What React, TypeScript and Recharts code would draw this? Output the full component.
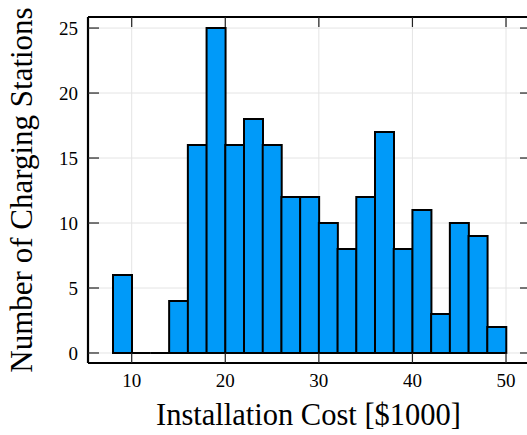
import React from 'react'
import { BarChart, Bar, XAxis, YAxis, CartesianGrid } from 'recharts'

const BIN_STARTS = [8, 10, 12, 14, 16, 18, 20, 22, 24, 26, 28, 30, 32, 34, 36, 38, 40, 42, 44, 46, 48]
const COUNTS = [6, 0, 0, 4, 16, 25, 16, 18, 16, 12, 12, 10, 8, 12, 17, 8, 11, 3, 10, 9, 2]
const BIN_WIDTH = 2
const X_TICKS = [10, 20, 30, 40, 50]
const Y_TICKS = [0, 5, 10, 15, 20, 25]
const X_DOMAIN = [5.33, 52.67]
const Y_DOMAIN = [-0.77, 25.85]

const DATA = BIN_STARTS.map((start, i) => ({
    bin: String(start),
    center: start + BIN_WIDTH / 2,
    count: COUNTS[i],
}))

const FONT = '"Liberation Serif", "Times New Roman", serif'
const TICK_COLOR = '#222'

const BottomTick = (props: any) => {
    const { x, y, payload } = props
    return (
        <g>
            <line x1={x} x2={x} y1={y} y2={y - 10} stroke={TICK_COLOR} strokeWidth={1.2} />
            <text x={x} y={y + 24} textAnchor="middle" fontFamily={FONT} fontSize={19} fill="#000">
                {payload.value}
            </text>
        </g>
    )
}

const TopTick = (props: any) => {
    const { x, y } = props
    return <line x1={x} x2={x} y1={y} y2={y + 10} stroke={TICK_COLOR} strokeWidth={1.2} />
}

const LeftTick = (props: any) => {
    const { x, y, payload } = props
    return (
        <g>
            <line x1={x} x2={x + 11} y1={y} y2={y} stroke={TICK_COLOR} strokeWidth={1.2} />
            <text x={x - 10} y={y + 7} textAnchor="end" fontFamily={FONT} fontSize={19} fill="#000">
                {payload.value}
            </text>
        </g>
    )
}

const RightTick = (props: any) => {
    const { x, y } = props
    return <line x1={x} x2={x - 11} y1={y} y2={y} stroke={TICK_COLOR} strokeWidth={1.2} />
}

const XTitle = (props: any) => {
    const { viewBox } = props
    return (
        <text x={viewBox.x + viewBox.width / 2 - 1} y={viewBox.y + 62} textAnchor="middle"
            fontFamily={FONT} fontSize={30.5} fill="#000">
            Installation Cost [$1000]
        </text>
    )
}

const YTitle = (props: any) => {
    const { viewBox } = props
    const cy = viewBox.y + viewBox.height / 2
    return (
        <text transform={`translate(32,${cy}) rotate(-90)`} textAnchor="middle"
            fontFamily={FONT} fontSize={31} fill="#000">
            Number of Charging Stations
        </text>
    )
}

// outlined bin, also drawn when the count is zero (flat line on the baseline)
const BinShape = (props: any) => {
    const { x, y, width, height } = props
    const d = `M${x},${y} h${width} v${height} h${-width} Z`
    return <path d={d} fill="#009AF9" stroke="#000" strokeWidth={2} strokeLinejoin="miter" />
}

const frame = { stroke: '#000', strokeWidth: 2.2 }

export default function App() {
    return (
        <div style={{ position: 'absolute', left: 0, top: 0, width: 527, height: 435, overflow: 'hidden', background: '#fff' }}>
            <BarChart width={546} height={435} data={DATA} margin={{ top: 0, right: 0, bottom: 0, left: 0 }}
                barCategoryGap={0} barGap={0}>
                <CartesianGrid xAxisId="bottom" yAxisId="left" stroke="#e4e4e4" strokeWidth={1} />
                <XAxis xAxisId="cat" dataKey="bin" type="category" hide padding={{ left: 25, right: 25 }} />
                <XAxis xAxisId="bottom" dataKey="center" type="number" orientation="bottom" height={72}
                    domain={X_DOMAIN} allowDataOverflow ticks={X_TICKS} interval={0}
                    tickLine={false} tickSize={0} tickMargin={0} axisLine={frame}
                    tick={<BottomTick />} label={<XTitle />} />
                <XAxis xAxisId="top" dataKey="center" type="number" orientation="top" height={17}
                    domain={X_DOMAIN} allowDataOverflow ticks={X_TICKS} interval={0}
                    tickLine={false} tickSize={0} tickMargin={0} axisLine={frame}
                    tick={<TopTick />} />
                <YAxis yAxisId="left" type="number" width={88} domain={Y_DOMAIN} allowDataOverflow
                    ticks={Y_TICKS} interval={0} tickLine={false} tickSize={0} tickMargin={0}
                    axisLine={frame} tick={<LeftTick />} label={<YTitle />} />
                <YAxis yAxisId="right" orientation="right" type="number" width={15} domain={Y_DOMAIN}
                    allowDataOverflow ticks={Y_TICKS} interval={0} tickLine={false} tickSize={0}
                    tickMargin={0} axisLine={frame} tick={<RightTick />} />
                <Bar dataKey="count" xAxisId="cat" yAxisId="left" isAnimationActive={false}
                    shape={<BinShape />} />
            </BarChart>
        </div>
    )
}
